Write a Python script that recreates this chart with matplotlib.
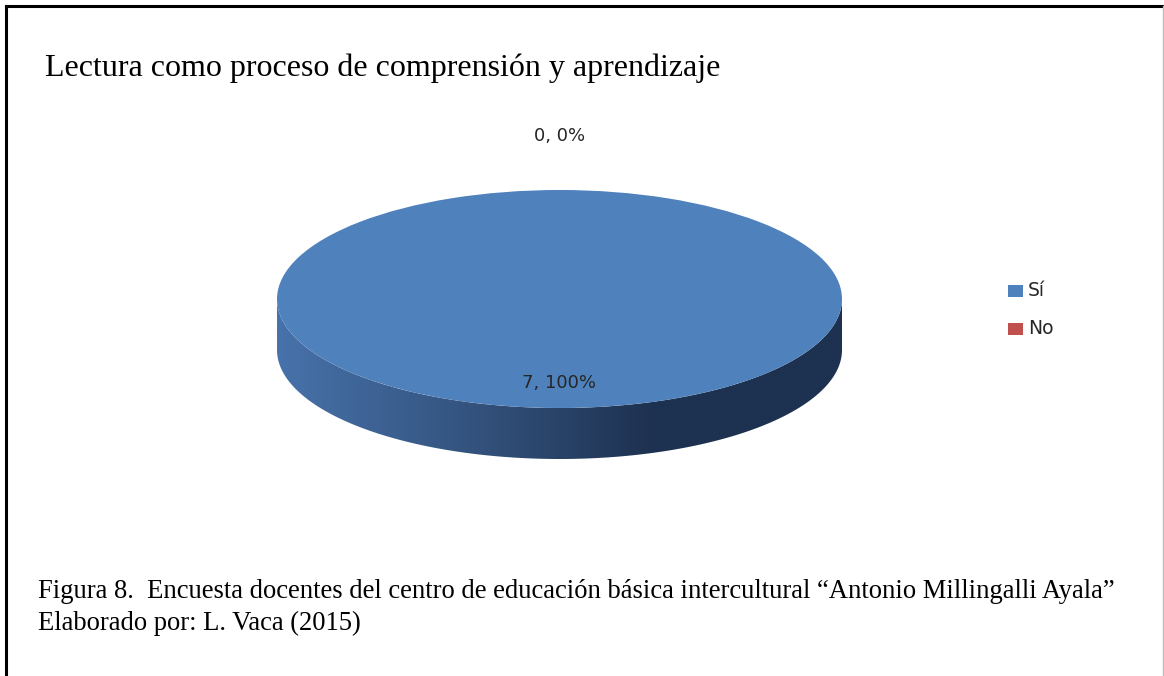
import numpy as np
import matplotlib
matplotlib.use("Agg")
import matplotlib.pyplot as plt
from matplotlib.patches import Polygon, Rectangle
from matplotlib.colors import LinearSegmentedColormap

# ---- data ----
categories = ["Sí", "No"]
counts = [7, 0]
percents = [100, 0]
colors = ["#4F81BD", "#C0504D"]
title = "Lectura como proceso de comprensión y aprendizaje"
caption1 = "Figura 8.  Encuesta docentes del centro de educación básica intercultural \u201cAntonio Millingalli Ayala\u201d"
caption2 = "Elaborado por: L. Vaca (2015)"

W, H = 1164, 676
fig = plt.figure(figsize=(W / 100, H / 100), dpi=100)
fig.patch.set_facecolor("white")

# border
fig.add_artist(plt.Line2D([6 / W, 1162 / W], [1 - 6 / H, 1 - 6 / H], color="black", lw=2.2))
fig.add_artist(plt.Line2D([6 / W, 6 / W], [0, 1 - 6 / H], color="black", lw=2.2))
fig.add_artist(plt.Line2D([1162.5 / W, 1162.5 / W], [0, 1 - 6 / H], color="#bbbbbb", lw=1))

# title
fig.text(45 / W, 1 - 76 / H, title, family="Liberation Serif", fontsize=23.0,
         ha="left", va="baseline", color="black")

# pie axes: x [-1,1] -> px 277..842, y 1 -> px 190, y -1 -> px 408
cx0, cx1 = 277, 842
b_px = 109
cy = 299
ytop, ybot = 1.0, -1.8
ax = fig.add_axes([cx0 / W, 1 - (cy - ybot * b_px) / H, (cx1 - cx0) / W,
                   (ytop - ybot) * b_px / H])
depth = 51 / b_px

# side (front half) with gradient
t = np.linspace(np.pi, 2 * np.pi, 200)
xs, ys = np.cos(t), np.sin(t)
side_x = np.concatenate([xs, xs[::-1]])
side_y = np.concatenate([ys - depth, ys[::-1]])
side = Polygon(np.column_stack([side_x, side_y]), closed=True, facecolor="none",
               edgecolor="none")
ax.add_patch(side)
cmap = LinearSegmentedColormap.from_list("side", ["#4772AA", "#34547F", "#1E3150", "#1D3150"])
grad = np.linspace(0, 1, 256).reshape(1, -1)
im = ax.imshow(grad, cmap=cmap, extent=[-1, 1, -1 - depth, 0], aspect="auto",
               interpolation="bilinear", zorder=1)
im.set_clip_path(side)

# top face via pie
wedges, _ = ax.pie(counts, colors=colors, startangle=90, counterclock=False,
                   radius=1, wedgeprops=dict(linewidth=0))
for w in wedges:
    w.set_zorder(2)
ax.set_aspect("auto")
ax.set_xlim(-1, 1)
ax.set_ylim(ybot, ytop)
ax.axis("off")

# data labels
lab_font = dict(family="DejaVu Sans", fontsize=13, color="#262626", ha="center", va="center")
ax.text(0, (cy - 383) / b_px, f"{counts[0]}, {percents[0]}%", **lab_font, zorder=5)
ax.text(0, (cy - 136) / b_px, f"{counts[1]}, {percents[1]}%", clip_on=False, **lab_font, zorder=5)

# legend
for i, (cat, col) in enumerate(zip(categories, colors)):
    yc = 291 + i * 38
    fig.add_artist(Rectangle((1008 / W, 1 - (yc + 6) / H), 15 / W, 12 / H,
                             facecolor=col, edgecolor="none", transform=fig.transFigure))
    fig.text(1028 / W, 1 - yc / H, cat, family="DejaVu Sans", fontsize=13.5, color="#262626",
             ha="left", va="center")

# caption
fig.text(38 / W, 1 - 598 / H, caption1, family="Liberation Serif", fontsize=19.2,
         ha="left", va="baseline")
fig.text(38 / W, 1 - 630 / H, caption2, family="Liberation Serif", fontsize=19.2,
         ha="left", va="baseline")

fig.savefig("out.png", dpi=100, facecolor="white")
